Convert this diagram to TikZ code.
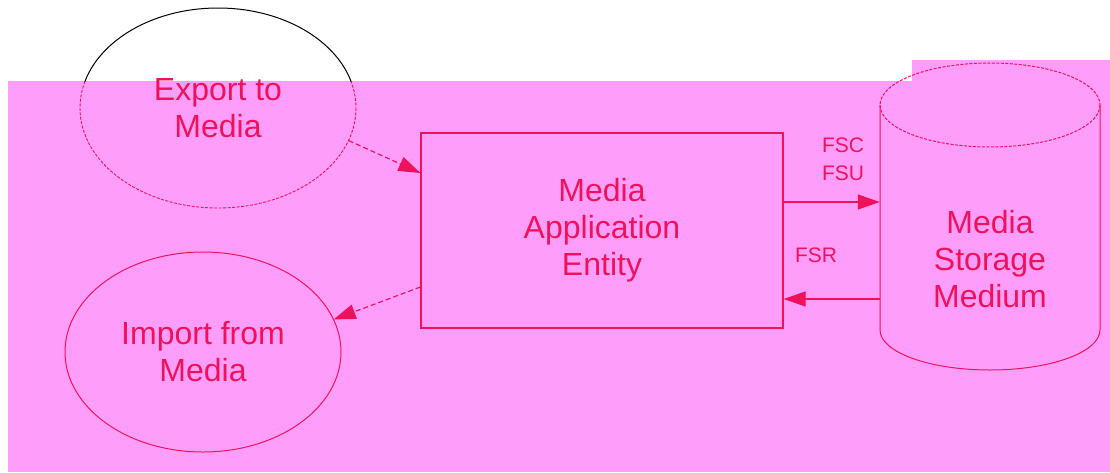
\documentclass[tikz,border=0pt]{standalone}
\usepackage{fontspec}
\setmainfont{Liberation Sans}
\usetikzlibrary{shapes.geometric,arrows.meta}
\definecolor{bgpink}{RGB}{255,158,250}
\definecolor{ink}{RGB}{238,18,92}
\tikzset{
  bigtxt/.style={font=\fontsize{32}{37}\selectfont, text=ink, align=center},
  smalltxt/.style={font=\fontsize{21}{28}\selectfont, text=ink, align=center},
  oval/.style={ellipse, minimum width=276pt, minimum height=200pt, inner sep=0pt, bigtxt},
  entity/.style={rectangle, draw=ink, line width=1.2pt, minimum width=362pt, minimum height=195pt, inner sep=0pt, bigtxt},
  flow/.style={draw=ink, line width=1.2pt, -{Triangle[length=22pt,width=15pt]}},
  dflow/.style={draw=ink, line width=1.2pt, dash pattern=on 5pt off 3pt, -{Triangle[length=22pt,width=15pt]}},
  rim/.style={draw=ink, line width=1pt}
}
\begin{document}
\begin{tikzpicture}[x=1pt,y=-1pt]
\useasboundingbox (0,0) rectangle (1110,472);
% background bands
\fill[white] (0,0) rectangle (1110,472);
\fill[bgpink] (8,81) rectangle (1110,472);
\fill[bgpink] (912,60) rectangle (1110,81);

% nodes
\node[oval] (export) at (218,108) {Export to\\Media};
\node[oval] (import) at (203,352) {Import from\\Media};
\node[entity] (mae) at (602,230.5) {Media\\Application\\Entity};
\node[rectangle, minimum width=220pt, minimum height=225pt, inner sep=0pt] (store) at (990,217.5) {};
\node[bigtxt] (storetxt) at (990,259) {Media\\Storage\\Medium};

% export ellipse: black above the pink band, dashed crimson inside it
\begin{scope}
  \clip (0,0) rectangle (1110,81);
  \draw[black, line width=1pt] (export.center) ellipse [x radius=138, y radius=100];
\end{scope}
\begin{scope}
  \clip (8,81) rectangle (1110,472);
  \draw[ink, line width=0.9pt, dash pattern=on 3pt off 1.5pt] (export.center) ellipse [x radius=138, y radius=100];
\end{scope}

% import ellipse
\draw[ink, line width=1pt] (import.center) ellipse [x radius=138, y radius=100];

% cylinder
\draw[rim, dash pattern=on 3pt off 1.5pt] (990,105) ellipse [x radius=110, y radius=42];
\draw[rim] (store.north west) ++(0,0) coordinate (cnw);
\coordinate (ctl) at (880,105);
\coordinate (ctr) at (1100,105);
\coordinate (cbl) at (880,330);
\coordinate (cbr) at (1100,330);
\draw[rim] (ctl) -- (cbl) arc[start angle=180, end angle=360, x radius=110, y radius=-40] -- (ctr);

% connector labels
\node[smalltxt] (fscu) at (843,159) {FSC\\FSU};
\node[smalltxt] (fsr) at (816,255) {FSR};

% connectors
\coordinate (yfs) at (0,202);
\coordinate (yfr) at (0,299);
\coordinate (yin) at (0,173);
\coordinate (yout) at (0,287);
\draw[flow] (mae.east |- yfs) -- (store.west |- yfs);
\draw[flow] (store.west |- yfr) -- (mae.east |- yfr);
\draw[dflow] (export.-14) -- (mae.west |- yin);
\draw[dflow] (mae.west |- yout) -- (import.14);
\end{tikzpicture}
\end{document}
